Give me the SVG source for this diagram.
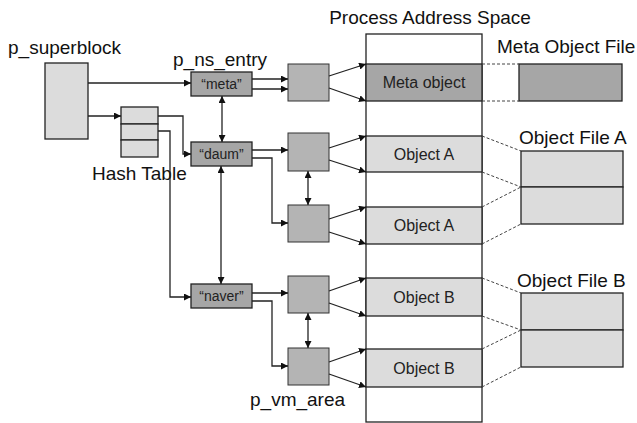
<svg xmlns="http://www.w3.org/2000/svg" width="637" height="423" viewBox="0 0 637 423">
<defs>
<marker id="ah" viewBox="0 0 8 8" refX="8" refY="4" markerWidth="7" markerHeight="7" markerUnits="userSpaceOnUse" orient="auto-start-reverse">
<path d="M0,0 L8,4 L0,8 Z" fill="#111"/>
</marker>
<style>
.lbl{font-family:"Liberation Sans",Arial,sans-serif;font-size:19px;fill:#111}
.in{font-family:"Liberation Sans",Arial,sans-serif;font-size:16px;fill:#222;text-anchor:middle}
.nm{font-family:"Liberation Sans",Arial,sans-serif;font-size:14px;fill:#222;text-anchor:middle}
.light{fill:#dcdcdc;stroke:#222;stroke-width:1.3}
.dark{fill:#a6a6a6;stroke:#222;stroke-width:1.3}
.vm{fill:#b4b4b4;stroke:#333;stroke-width:1}
.ln{fill:none;stroke:#222;stroke-width:1.3}
.ar{fill:none;stroke:#222;stroke-width:1.3;marker-end:url(#ah)}
.bi{fill:none;stroke:#222;stroke-width:1.3;marker-end:url(#ah);marker-start:url(#ah)}
.ds{fill:none;stroke:#444;stroke-width:1;stroke-dasharray:3,2}
</style>
</defs>
<rect width="637" height="423" fill="#fff"/>

<g id="p_superblock">
<text class="lbl" x="8" y="54">p_superblock</text>
<rect class="light" x="45" y="63" width="43" height="76"/>
</g>

<g id="hash_table">
<rect class="light" x="121" y="107" width="37" height="17"/>
<rect class="light" x="121" y="124" width="37" height="16"/>
<rect class="light" x="121" y="140" width="37" height="17"/>
<text class="lbl" x="92" y="180">Hash Table</text>
</g>

<g id="ns_meta">
<text class="lbl" x="173" y="66">p_ns_entry</text>
<rect class="dark" x="191" y="72" width="61" height="24"/>
<text class="nm" x="221.5" y="89">“meta”</text>
</g>
<g id="ns_daum">
<rect class="dark" x="191" y="142" width="61" height="24"/>
<text class="nm" x="221.5" y="159">“daum”</text>
</g>
<g id="ns_naver">
<rect class="dark" x="191" y="284" width="61" height="24"/>
<text class="nm" x="221.5" y="301">“naver”</text>
</g>

<g id="vm_meta"><rect class="vm" x="288" y="64" width="41" height="37"/></g>
<g id="vm_a1"><rect class="vm" x="288" y="133" width="41" height="38"/></g>
<g id="vm_a2"><rect class="vm" x="288" y="205" width="41" height="37"/></g>
<g id="vm_b1"><rect class="vm" x="288" y="276" width="41" height="37"/></g>
<g id="vm_b2"><rect class="vm" x="288" y="348" width="41" height="37"/>
<text class="lbl" x="250" y="406">p_vm_area</text></g>

<g id="address_space">
<text class="lbl" x="430" y="24" text-anchor="middle">Process Address Space</text>
<rect x="366" y="34" width="116" height="388" fill="#fff" stroke="#222" stroke-width="1.3"/>
<rect class="dark" x="366" y="64" width="116" height="37"/>
<text class="in" x="424" y="88">Meta object</text>
<rect class="light" x="366" y="136" width="116" height="36"/>
<text class="in" x="424" y="160">Object A</text>
<rect class="light" x="366" y="207" width="116" height="37"/>
<text class="in" x="424" y="231">Object A</text>
<rect class="light" x="366" y="278" width="116" height="38"/>
<text class="in" x="424" y="303">Object B</text>
<rect class="light" x="366" y="349" width="116" height="38"/>
<text class="in" x="424" y="374">Object B</text>
</g>

<g id="meta_object_file">
<text class="lbl" x="497" y="53">Meta Object File</text>
<rect class="dark" x="519" y="64" width="103" height="37"/>
</g>
<g id="object_file_a">
<text class="lbl" x="519" y="144">Object File A</text>
<rect class="light" x="521" y="151" width="102" height="36"/>
<rect class="light" x="521" y="187" width="102" height="37"/>
</g>
<g id="object_file_b">
<text class="lbl" x="517" y="287">Object File B</text>
<rect class="light" x="521" y="293" width="102" height="37"/>
<rect class="light" x="521" y="330" width="102" height="37"/>
</g>

<g id="connectors">
<path class="ar" d="M88,83 H191"/>
<path class="ar" d="M88,116 H121"/>
<path class="ar" d="M158,116 H183 V154 H191"/>
<path class="ar" d="M158,131 H170 V297 H191"/>
<path class="bi" d="M222,96 V142"/>
<path class="bi" d="M221,166 V284"/>

<path class="ar" d="M252,79 H288"/>
<path class="ar" d="M252,89 H288"/>
<path class="ar" d="M252,150 H288"/>
<path class="ar" d="M252,158 H272 V223 H288"/>
<path class="ar" d="M252,293 H288"/>
<path class="ar" d="M252,301 H272 V366 H288"/>

<path class="bi" d="M308,171 V205"/>
<path class="bi" d="M308,313 V348"/>

<path class="ar" d="M329,76 L366,64"/>
<path class="ar" d="M329,88 L366,101"/>
<path class="ar" d="M329,148 L366,136"/>
<path class="ar" d="M329,160 L366,172"/>
<path class="ar" d="M329,219 L366,207"/>
<path class="ar" d="M329,232 L366,244"/>
<path class="ar" d="M329,291 L366,278"/>
<path class="ar" d="M329,303 L366,316"/>
<path class="ar" d="M329,362 L366,349"/>
<path class="ar" d="M329,374 L366,387"/>

<path class="ds" d="M482,64 H519 M482,101 H519"/>
<path class="ds" d="M482,136 L521,151 M482,172 L521,187 M482,207 L521,187 M482,244 L521,224"/>
<path class="ds" d="M482,278 L521,293 M482,316 L521,330 M482,349 L521,330 M482,387 L521,367"/>
</g>
</svg>
